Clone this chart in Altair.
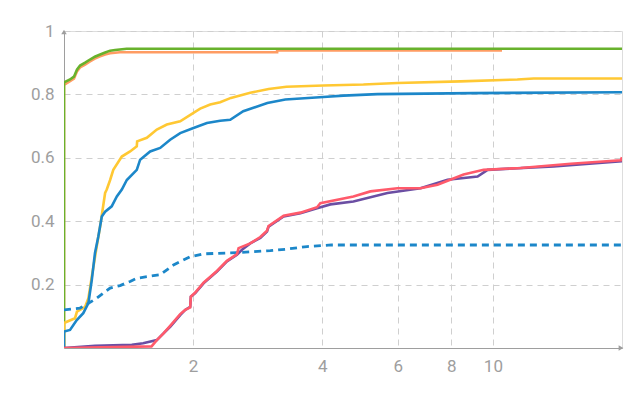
import altair as alt
import pandas as pd

# ---- data (x on a log scale, y = cumulative share) ----
orange_x = [1, 1, 1.033, 1.055, 1.072, 1.09, 1.12, 1.15, 1.18, 1.214, 1.247, 1.281, 1.35, 3.14, 3.14, 10.5]
orange_y = [0, 0.83, 0.842, 0.85, 0.872, 0.885, 0.894, 0.904, 0.913, 0.92, 0.926, 0.93, 0.933, 0.933, 0.939, 0.939]

green_x = [1, 1, 1.033, 1.055, 1.072, 1.09, 1.12, 1.15, 1.18, 1.214, 1.247, 1.281, 1.316, 1.40, 20]
green_y = [0, 0.838, 0.847, 0.856, 0.878, 0.891, 0.9, 0.91, 0.919, 0.926, 0.932, 0.938, 0.94, 0.944, 0.944]

yellow_x = [1, 1, 1.061, 1.072, 1.12, 1.14, 1.161, 1.192, 1.214, 1.247, 1.258, 1.281, 1.303, 1.364,
            1.426, 1.478, 1.481, 1.56, 1.646, 1.737, 1.866, 2.004, 2.078, 2.192, 2.313, 2.45, 2.718,
            3.0, 3.3, 4.025, 4.99, 5.99, 8.4, 11.4, 12.45, 20]
yellow_y = [0, 0.079, 0.094, 0.115, 0.13, 0.157, 0.225, 0.32, 0.383, 0.489, 0.5, 0.53, 0.562, 0.604,
            0.62, 0.636, 0.652, 0.663, 0.689, 0.705, 0.715, 0.742, 0.755, 0.768, 0.775, 0.789, 0.805,
            0.817, 0.824, 0.828, 0.831, 0.836, 0.841, 0.847, 0.85, 0.85]

blue_x = [1, 1, 1.033, 1.071, 1.109, 1.14, 1.161, 1.181, 1.202, 1.225, 1.247, 1.292, 1.328, 1.364,
          1.401, 1.478, 1.505, 1.588, 1.676, 1.768, 1.866, 2.004, 2.154, 2.313, 2.441, 2.618, 2.979,
          3.281, 4.025, 4.482, 5.381, 9.015, 20]
blue_y = [0, 0.052, 0.057, 0.088, 0.11, 0.142, 0.215, 0.3, 0.351, 0.415, 0.43, 0.447, 0.478, 0.5,
          0.53, 0.562, 0.594, 0.62, 0.631, 0.657, 0.678, 0.694, 0.71, 0.717, 0.72, 0.747, 0.773,
          0.784, 0.792, 0.796, 0.801, 0.804, 0.807]

dotted_x = [1, 1.09, 1.14, 1.192, 1.281, 1.351, 1.426, 1.478, 1.56, 1.676, 1.8, 1.969, 2.115,
            2.531, 3.027, 3.311, 3.687, 4.2, 20]
dotted_y = [0.12, 0.126, 0.141, 0.157, 0.189, 0.197, 0.21, 0.22, 0.225, 0.231, 0.262, 0.288, 0.297,
            0.301, 0.307, 0.312, 0.32, 0.325, 0.325]

purple_x = [1, 1.181, 1.439, 1.529, 1.646, 1.706, 1.768, 1.866, 1.917, 1.969, 1.976, 2.023, 2.115,
            2.273, 2.398, 2.531, 2.6, 2.718, 2.869, 2.974, 2.999, 3.251, 3.557, 3.891, 4.179, 4.729,
            5.678, 6.78, 7.839, 9.211, 9.72, 13.86, 20]
purple_y = [0, 0.007, 0.01, 0.015, 0.025, 0.046, 0.067, 0.104, 0.12, 0.13, 0.162, 0.173, 0.204,
            0.241, 0.273, 0.294, 0.31, 0.33, 0.347, 0.367, 0.383, 0.415, 0.425, 0.441, 0.453, 0.462,
            0.489, 0.504, 0.531, 0.541, 0.562, 0.573, 0.589]

red_x = [1, 1.6, 1.646, 1.706, 1.768, 1.866, 1.917, 1.969, 1.976, 2.023, 2.115, 2.273, 2.398, 2.531,
         2.553, 2.718, 2.869, 2.974, 2.999, 3.251, 3.557, 3.891, 3.96, 4.729, 5.182, 5.991, 6.78,
         7.429, 8.543, 9.513, 11.61, 15.19, 19.87, 20]
red_y = [0, 0.005, 0.025, 0.046, 0.07, 0.107, 0.12, 0.128, 0.162, 0.175, 0.206, 0.243, 0.275, 0.296,
         0.315, 0.33, 0.35, 0.37, 0.385, 0.417, 0.427, 0.444, 0.457, 0.478, 0.494, 0.504, 0.504,
         0.515, 0.547, 0.562, 0.568, 0.581, 0.592, 0.602]

x_ticks = [2, 4, 6, 8, 10]
y_ticks = [0.2, 0.4, 0.6, 0.8, 1]

# name, xs, ys, colour, dash  (drawing order bottom -> top)
series = [
    ("orange", orange_x, orange_y, "#ff9c63", None),
    ("green", green_x, green_y, "#68b22c", None),
    ("yellow", yellow_x, yellow_y, "#ffc833", None),
    ("blue", blue_x, blue_y, "#1c87c9", None),
    ("blue dotted", dotted_x, dotted_y, "#1c87c9", [7, 5]),
    ("purple", purple_x, purple_y, "#6b4ea3", None),
    ("red", red_x, red_y, "#ff5a6b", None),
]

GREY = "#9e9e9e"
FONT = "Roboto"

x_scale = alt.Scale(type="log", domain=[1, 20], nice=False)
y_scale = alt.Scale(domain=[0, 1], nice=False)

x_axis = alt.Axis(values=x_ticks, title=None, grid=True, gridDash=[6, 5], gridColor="#cfcfcf",
                  ticks=False, domainColor=GREY, labelColor=GREY, labelFont=FONT,
                  labelFontSize=17, labelPadding=10, format="d")
y_axis = alt.Axis(values=y_ticks, title=None, grid=True, gridDash=[6, 5], gridColor="#cfcfcf",
                  ticks=False, domainColor=GREY, labelColor=GREY, labelFont=FONT,
                  labelFontSize=17, labelPadding=10, format="~g")

layers = []
for i, (name, xs, ys, col, dash) in enumerate(series):
    df = pd.DataFrame({"x": xs, "y": ys})
    mark_kw = dict(interpolate="linear", color=col, strokeWidth=2.6, clip=True)
    if dash:
        mark_kw["strokeDash"] = dash
        mark_kw["strokeWidth"] = 2.8
    if i == 0:
        enc = dict(x=alt.X("x:Q", scale=x_scale, axis=x_axis),
                   y=alt.Y("y:Q", scale=y_scale, axis=y_axis))
    else:
        enc = dict(x=alt.X("x:Q", scale=x_scale), y=alt.Y("y:Q", scale=y_scale))
    layers.append(alt.Chart(df).mark_line(**mark_kw).encode(**enc))

# axis arrow heads
arrow_up = alt.Chart(pd.DataFrame({"x": [1], "y": [1]})).mark_point(
    shape="triangle-up", filled=True, size=30, color=GREY, opacity=1, yOffset=1
).encode(x=alt.X("x:Q", scale=x_scale), y=alt.Y("y:Q", scale=y_scale))
arrow_right = alt.Chart(pd.DataFrame({"x": [20], "y": [0]})).mark_point(
    shape="triangle-right", filled=True, size=30, color=GREY, opacity=1, xOffset=-1
).encode(x=alt.X("x:Q", scale=x_scale), y=alt.Y("y:Q", scale=y_scale))

chart = alt.layer(*layers, arrow_up, arrow_right).properties(
    width=558, height=317,
    autosize=alt.AutoSizeParams(type="none"),
    padding={"left": 56, "top": 23, "right": 10, "bottom": 42},
).configure_view(stroke=None).configure(background="white")

chart.save("out.html", embed_options={"renderer": "svg", "actions": False})
